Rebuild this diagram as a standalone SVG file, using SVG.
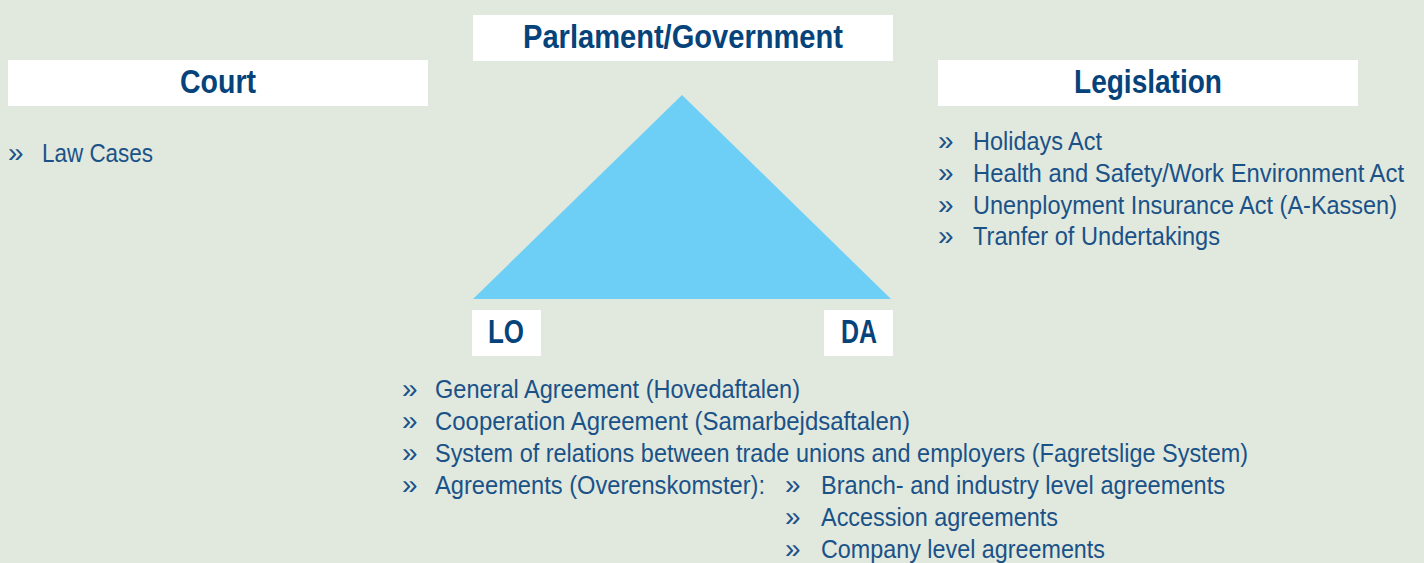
<svg xmlns="http://www.w3.org/2000/svg" width="1424" height="563" viewBox="0 0 1424 563">
  <style>
    .box { fill: #ffffff; }
    .head { font-family: "Liberation Sans Narrow", "Liberation Sans", Arial, sans-serif; font-weight: bold; font-size: 34px; fill: #05437a; }
    .item { font-family: "Liberation Sans Narrow", "Liberation Sans", Arial, sans-serif; font-size: 26px; fill: #1a5288; }
    .bullet { font-family: "Liberation Sans", Arial, sans-serif; font-size: 28px; fill: #1a5288; }
  </style>
  <rect width="1424" height="563" fill="#e1e8de"/>

  <!-- triangle linking the three parties -->
  <g id="triangle">
    <polygon points="682,95 891,299 473,299" fill="#6dcff6"/>
  </g>

  <g id="parliament">
    <rect class="box" x="473" y="15" width="420" height="46"/>
    <text class="head" x="683" y="48" text-anchor="middle" textLength="320" lengthAdjust="spacingAndGlyphs">Parlament/Government</text>
  </g>

  <g id="court">
    <rect class="box" x="8" y="60" width="420" height="46"/>
    <text class="head" x="218" y="93" text-anchor="middle" textLength="76" lengthAdjust="spacingAndGlyphs">Court</text>
    <text class="bullet" x="8" y="162">»</text>
    <text class="item" x="42" y="162" textLength="111" lengthAdjust="spacingAndGlyphs">Law Cases</text>
  </g>

  <g id="legislation">
    <rect class="box" x="938" y="60" width="420" height="46"/>
    <text class="head" x="1148" y="93" text-anchor="middle" textLength="148" lengthAdjust="spacingAndGlyphs">Legislation</text>
    <text class="bullet" x="938" y="150">»</text>
    <text class="item" x="973" y="150" textLength="129" lengthAdjust="spacingAndGlyphs">Holidays Act</text>
    <text class="bullet" x="938" y="182">»</text>
    <text class="item" x="973" y="182" textLength="431" lengthAdjust="spacingAndGlyphs">Health and Safety/Work Environment Act</text>
    <text class="bullet" x="938" y="214">»</text>
    <text class="item" x="973" y="214" textLength="424" lengthAdjust="spacingAndGlyphs">Unenployment Insurance Act (A-Kassen)</text>
    <text class="bullet" x="938" y="245">»</text>
    <text class="item" x="973" y="245" textLength="247" lengthAdjust="spacingAndGlyphs">Tranfer of Undertakings</text>
  </g>

  <g id="lo">
    <rect class="box" x="472" y="310" width="69" height="46"/>
    <text class="head" x="506" y="343" text-anchor="middle" textLength="36" lengthAdjust="spacingAndGlyphs">LO</text>
  </g>

  <g id="da">
    <rect class="box" x="824" y="310" width="69" height="46"/>
    <text class="head" x="859" y="343" text-anchor="middle" textLength="36" lengthAdjust="spacingAndGlyphs">DA</text>
  </g>

  <g id="agreements">
    <text class="bullet" x="402" y="398">»</text>
    <text class="item" x="435" y="398" textLength="365" lengthAdjust="spacingAndGlyphs">General Agreement (Hovedaftalen)</text>
    <text class="bullet" x="402" y="430">»</text>
    <text class="item" x="435" y="430" textLength="475" lengthAdjust="spacingAndGlyphs">Cooperation Agreement (Samarbejdsaftalen)</text>
    <text class="bullet" x="402" y="462">»</text>
    <text class="item" x="435" y="462" textLength="813" lengthAdjust="spacingAndGlyphs">System of relations between trade unions and employers (Fagretslige System)</text>
    <text class="bullet" x="402" y="494">»</text>
    <text class="item" x="435" y="494" textLength="330" lengthAdjust="spacingAndGlyphs">Agreements (Overenskomster):</text>
    <text class="bullet" x="785" y="494">»</text>
    <text class="item" x="821" y="494" textLength="404" lengthAdjust="spacingAndGlyphs">Branch- and industry level agreements</text>
    <text class="bullet" x="785" y="526">»</text>
    <text class="item" x="821" y="526" textLength="237" lengthAdjust="spacingAndGlyphs">Accession agreements</text>
    <text class="bullet" x="785" y="558">»</text>
    <text class="item" x="821" y="558" textLength="284" lengthAdjust="spacingAndGlyphs">Company level agreements</text>
  </g>
</svg>
